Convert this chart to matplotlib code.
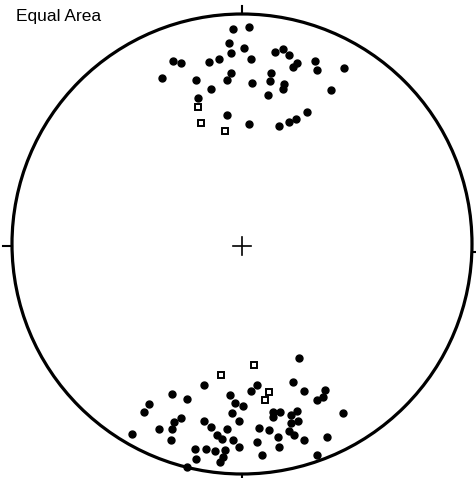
import matplotlib
matplotlib.use("Agg")
import matplotlib.pyplot as plt
from matplotlib.patches import Circle

# Net units: primitive circle radius = 230, centre at (0, 0)
R = 230
title = "Equal Area"

# Filled circles (poles), top cluster
top_x = [-9.3, 6.7, -12.7, -11, 2, -68.7, -60.7, -33, -23.3, 8.7, 32.7, 40.7, 47.3, 55.3,
         50.7, 73.3, 74.7, 102, -79.7, -46, -10.7, -15.3, 10, 29.3, 28, 42.3, 41.3, -31.3,
         -44.3, 26, 89, -15.3, 7, 37.3, 47, 53.7, 65.3]
top_y = [215, 216.7, 200.7, 191.3, 196, 183, 181.3, 181.7, 184.7, 184.7, 191.7, 194.7, 188.7,
         180.7, 177.3, 182.7, 174.3, 176, 166.3, 163.7, 170.7, 163.7, 161.3, 171, 162.7, 160,
         154.7, 154.7, 146.3, 148.7, 154, 129.3, 120.3, 117.7, 122, 125.3, 132]

# Filled circles, bottom cluster
bot_x = [56.7, -38, 14.7, 8.5, 51.3, 62, 83, 74.7, 80.7, -70, -55.3, -12.3, -7.3, 0.7, -92.7,
         -98, -10.5, 31.3, 38, 55.3, 101, -60.7, -68, -3, 30.7, 49.3, 48.7, 56.3, -38, -82.7,
         -70, -31.3, -15.3, 16.7, 26.7, 46.7, 52.3, -110, -25.3, -20, -9, 36, -71.3, 15.3, 62,
         84.7, -47.3, -36, -27.3, -16.7, -2.7, 36.7, -46, -18.7, -22, 20, 75, -55.3]
bot_y = [-114, -140.5, -141.3, -146.7, -138, -147.3, -146, -156, -153.3, -150, -154.7, -151.2,
         -159, -162, -159.8, -168, -168.5, -168, -168, -166.7, -169.3, -174, -178, -176.5,
         -173.3, -171, -179, -177.3, -176.7, -185, -185.3, -183.3, -184.7, -184, -186, -187.3,
         -190.7, -189.7, -190.7, -194.7, -196, -193.3, -195.7, -198, -196, -193.3, -205.3,
         -205.3, -206.7, -206, -203.3, -203.3, -215, -213, -217.7, -211.3, -211, -223]

# Open squares
sq_x = [-44.3, -41, -16.7, 11.5, -21.5, 26.7, 23.3]
sq_y = [136.7, 121.3, 112.7, -120.7, -131, -148, -156]

fig = plt.figure(figsize=(4.76, 4.78), dpi=100)
ax = fig.add_axes([0, 0, 1, 1])
ax.set_xlim(-242, 234)
ax.set_ylim(-234, 244)
ax.set_aspect("equal")
ax.axis("off")

ax.add_patch(Circle((0, 0), R, fill=False, lw=2.3, color="black"))
# ticks at the cardinal directions
ax.plot([0, 0], [R, R + 8], color="black", lw=1.5)
ax.plot([0, 0], [-R, -R - 4], color="black", lw=1.5)
ax.plot([-R, -R - 9], [-2, -2], color="black", lw=1.5)
ax.plot([R, R + 3], [-8, -8], color="black", lw=1.5)
# centre cross
ax.plot([-9, 9], [-2, -2], color="black", lw=1.2)
ax.plot([0, 0], [-11, 7], color="black", lw=1.2)

ax.plot(top_x, top_y, "o", ms=5, color="black", mec="black")
ax.plot(bot_x, bot_y, "o", ms=5, color="black", mec="black")
ax.plot(sq_x, sq_y, "s", ms=4.5, mfc="white", mec="black", mew=1.4)

fig.text(16 / 476, 1 - 17 / 478, title, fontsize=12.5, family="Liberation Sans",
         va="center", ha="left")

fig.savefig("out.png", dpi=100, facecolor="white")
